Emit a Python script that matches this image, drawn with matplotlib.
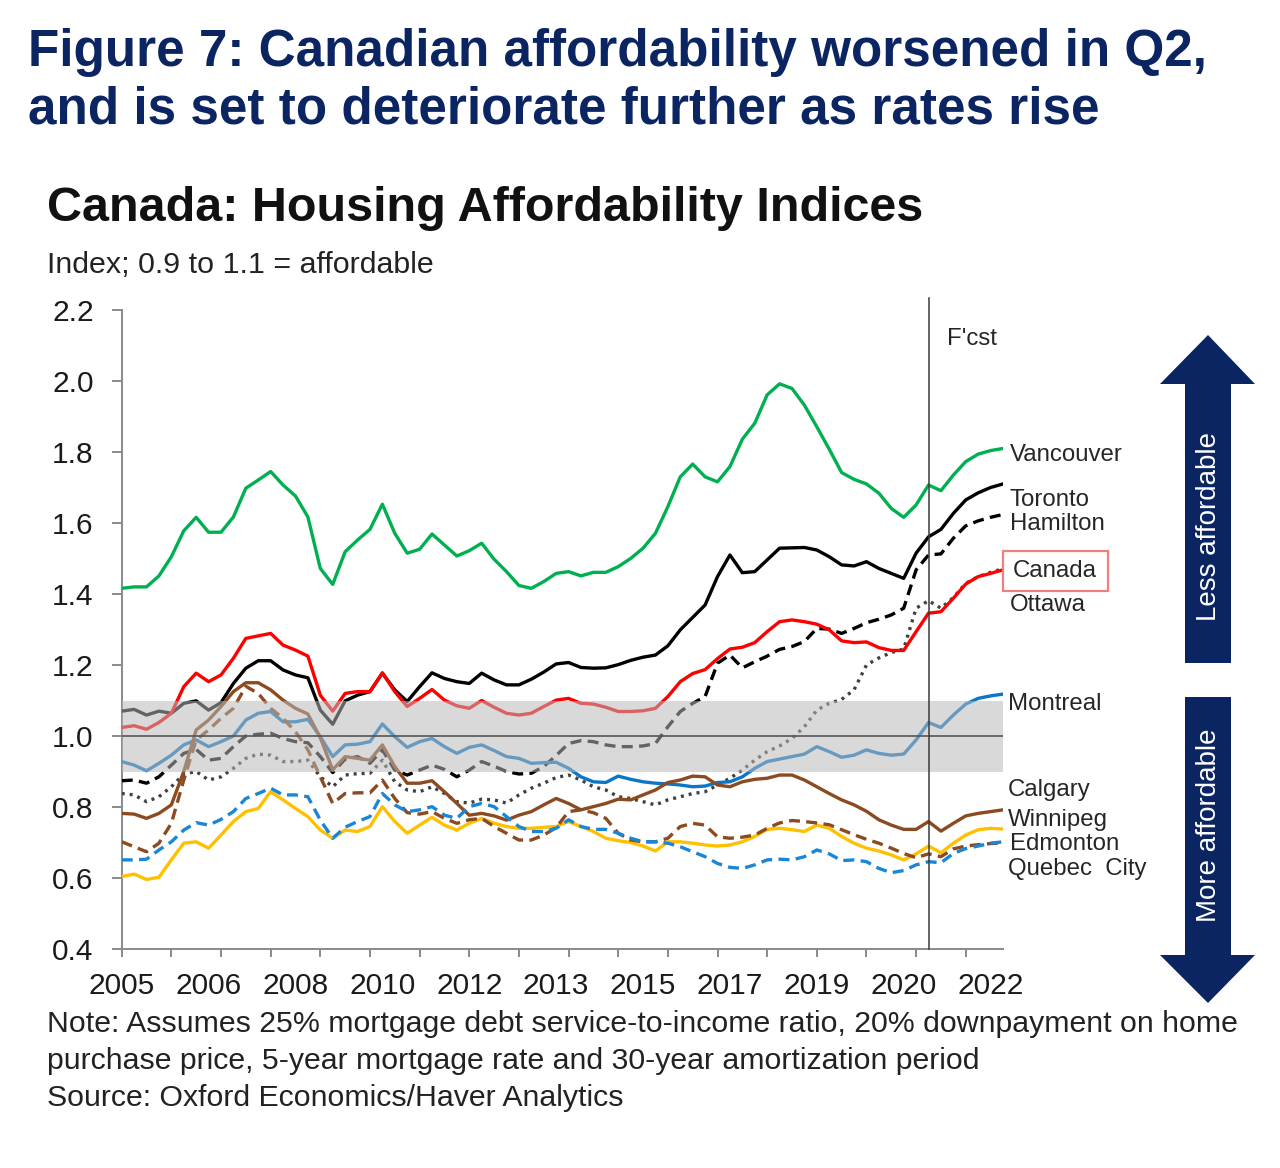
import numpy as np
import matplotlib
matplotlib.use("Agg")
import matplotlib.pyplot as plt
from matplotlib.patches import Polygon, Rectangle

plt.rcParams['font.family'] = ['Liberation Sans', 'DejaVu Sans']

# ---------------- data (quarterly, 2005Q1 - 2022Q4) ----------------
quarters = [f"{y}Q{q}" for y in range(2005, 2023) for q in range(1, 5)]

vancouver = [1.416, 1.42, 1.42, 1.451, 1.505, 1.578, 1.616, 1.574, 1.574, 1.617,
             1.698, 1.721, 1.745, 1.707, 1.676, 1.617, 1.472, 1.427, 1.519, 1.552,
             1.582, 1.653, 1.571, 1.515, 1.526, 1.569, 1.538, 1.507, 1.522, 1.543,
             1.498, 1.463, 1.424, 1.416, 1.435, 1.458, 1.463, 1.451, 1.461, 1.461,
             1.477, 1.500, 1.529, 1.571, 1.646, 1.730, 1.766, 1.730, 1.716, 1.759,
             1.836, 1.881, 1.961, 1.992, 1.979, 1.932, 1.871, 1.808, 1.742, 1.723,
             1.710, 1.684, 1.641, 1.616, 1.651, 1.707, 1.691, 1.735, 1.773, 1.794,
             1.804, 1.810]
toronto = [1.070, 1.075, 1.059, 1.070, 1.064, 1.092, 1.099, 1.073, 1.094, 1.148,
           1.191, 1.212, 1.212, 1.186, 1.172, 1.164, 1.073, 1.033, 1.099, 1.115,
           1.125, 1.177, 1.130, 1.097, 1.139, 1.178, 1.162, 1.153, 1.148, 1.177,
           1.158, 1.144, 1.144, 1.160, 1.180, 1.203, 1.207, 1.193, 1.191, 1.192,
           1.201, 1.213, 1.222, 1.228, 1.254, 1.299, 1.334, 1.369, 1.449, 1.510,
           1.460, 1.463, 1.496, 1.529, 1.530, 1.531, 1.524, 1.505, 1.482, 1.479,
           1.491, 1.472, 1.458, 1.444, 1.515, 1.561, 1.582, 1.627, 1.665, 1.685,
           1.700, 1.710]
hamilton = [0.874, 0.876, 0.867, 0.885, 0.918, 0.951, 0.962, 0.932, 0.937, 0.970,
            1.000, 1.005, 1.008, 0.993, 0.984, 0.981, 0.942, 0.897, 0.935, 0.942,
            0.923, 0.961, 0.904, 0.890, 0.904, 0.918, 0.906, 0.885, 0.904, 0.928,
            0.915, 0.900, 0.893, 0.895, 0.914, 0.945, 0.979, 0.987, 0.984, 0.975,
            0.970, 0.970, 0.972, 0.979, 1.026, 1.069, 1.092, 1.111, 1.205, 1.228,
            1.192, 1.209, 1.225, 1.244, 1.252, 1.266, 1.303, 1.301, 1.289, 1.303,
            1.319, 1.329, 1.341, 1.360, 1.468, 1.510, 1.513, 1.557, 1.592, 1.606,
            1.616, 1.624]
canada = [1.024, 1.029, 1.019, 1.038, 1.064, 1.139, 1.177, 1.153, 1.172, 1.219,
          1.275, 1.282, 1.289, 1.256, 1.242, 1.225, 1.115, 1.070, 1.120, 1.125,
          1.125, 1.178, 1.125, 1.083, 1.106, 1.131, 1.101, 1.085, 1.078, 1.100,
          1.081, 1.064, 1.059, 1.064, 1.083, 1.101, 1.106, 1.092, 1.090, 1.081,
          1.069, 1.069, 1.071, 1.078, 1.111, 1.153, 1.176, 1.187, 1.218, 1.245,
          1.250, 1.263, 1.294, 1.322, 1.327, 1.322, 1.315, 1.299, 1.268, 1.263,
          1.265, 1.249, 1.241, 1.241, 1.294, 1.346, 1.350, 1.388, 1.428, 1.449,
          1.458, 1.468]
ottawa = [0.838, 0.834, 0.815, 0.829, 0.857, 0.893, 0.900, 0.876, 0.885, 0.909,
          0.937, 0.949, 0.946, 0.928, 0.928, 0.932, 0.885, 0.857, 0.890, 0.894,
          0.895, 0.932, 0.871, 0.848, 0.843, 0.857, 0.838, 0.815, 0.811, 0.822,
          0.820, 0.811, 0.834, 0.853, 0.867, 0.883, 0.890, 0.876, 0.857, 0.848,
          0.829, 0.824, 0.815, 0.806, 0.820, 0.829, 0.838, 0.843, 0.862, 0.881,
          0.904, 0.932, 0.956, 0.972, 0.993, 1.026, 1.073, 1.092, 1.103, 1.130,
          1.200, 1.220, 1.235, 1.245, 1.360, 1.381, 1.360, 1.390, 1.430, 1.449,
          1.461, 1.471]
montreal = [0.928, 0.918, 0.902, 0.923, 0.946, 0.975, 0.989, 0.970, 0.984, 1.000,
            1.045, 1.064, 1.069, 1.040, 1.040, 1.047, 0.998, 0.942, 0.975, 0.977,
            0.984, 1.034, 0.998, 0.968, 0.984, 0.993, 0.970, 0.951, 0.968, 0.975,
            0.959, 0.942, 0.937, 0.923, 0.925, 0.926, 0.909, 0.885, 0.871, 0.869,
            0.887, 0.878, 0.871, 0.867, 0.865, 0.862, 0.857, 0.859, 0.869, 0.871,
            0.885, 0.909, 0.928, 0.935, 0.942, 0.949, 0.970, 0.956, 0.940, 0.946,
            0.961, 0.951, 0.946, 0.949, 0.989, 1.038, 1.024, 1.059, 1.090, 1.106,
            1.113, 1.118]
calgary = [0.782, 0.780, 0.768, 0.782, 0.806, 0.900, 1.017, 1.045, 1.083, 1.125,
           1.150, 1.150, 1.130, 1.101, 1.078, 1.062, 0.995, 0.905, 0.942, 0.937,
           0.932, 0.975, 0.914, 0.867, 0.867, 0.874, 0.843, 0.810, 0.777, 0.782,
           0.775, 0.763, 0.777, 0.787, 0.806, 0.824, 0.810, 0.792, 0.801, 0.810,
           0.822, 0.820, 0.834, 0.848, 0.869, 0.876, 0.887, 0.885, 0.862, 0.857,
           0.871, 0.878, 0.881, 0.890, 0.890, 0.876, 0.857, 0.838, 0.820, 0.806,
           0.788, 0.764, 0.749, 0.737, 0.737, 0.759, 0.732, 0.754, 0.775, 0.782,
           0.787, 0.792]
winnipeg = [0.604, 0.611, 0.596, 0.602, 0.651, 0.698, 0.702, 0.684, 0.721, 0.759,
            0.787, 0.796, 0.843, 0.820, 0.796, 0.773, 0.735, 0.712, 0.735, 0.731,
            0.745, 0.801, 0.759, 0.726, 0.749, 0.771, 0.749, 0.735, 0.754, 0.768,
            0.754, 0.745, 0.740, 0.740, 0.743, 0.745, 0.759, 0.745, 0.731, 0.712,
            0.705, 0.700, 0.690, 0.676, 0.702, 0.702, 0.698, 0.693, 0.690, 0.693,
            0.702, 0.717, 0.737, 0.740, 0.736, 0.731, 0.749, 0.740, 0.717, 0.698,
            0.684, 0.676, 0.665, 0.651, 0.668, 0.690, 0.671, 0.698, 0.721, 0.736,
            0.740, 0.738]
edmonton = [0.702, 0.688, 0.674, 0.698, 0.754, 0.876, 0.989, 1.017, 1.050, 1.078,
            1.140, 1.120, 1.078, 1.050, 1.012, 0.961, 0.885, 0.810, 0.838, 0.840,
            0.840, 0.876, 0.824, 0.784, 0.780, 0.787, 0.768, 0.754, 0.764, 0.768,
            0.745, 0.726, 0.707, 0.707, 0.721, 0.742, 0.787, 0.792, 0.784, 0.768,
            0.726, 0.707, 0.702, 0.702, 0.712, 0.745, 0.754, 0.749, 0.716, 0.712,
            0.715, 0.721, 0.740, 0.755, 0.762, 0.759, 0.755, 0.750, 0.736, 0.722,
            0.709, 0.698, 0.684, 0.669, 0.657, 0.668, 0.660, 0.682, 0.690, 0.694,
            0.697, 0.699]
quebec_city = [0.651, 0.651, 0.653, 0.679, 0.702, 0.735, 0.756, 0.749, 0.765, 0.787,
               0.824, 0.838, 0.853, 0.834, 0.834, 0.829, 0.763, 0.712, 0.743, 0.759,
               0.773, 0.838, 0.806, 0.787, 0.792, 0.801, 0.777, 0.768, 0.801, 0.810,
               0.801, 0.773, 0.745, 0.731, 0.731, 0.740, 0.764, 0.745, 0.737, 0.737,
               0.726, 0.712, 0.702, 0.702, 0.698, 0.688, 0.674, 0.660, 0.641, 0.630,
               0.627, 0.637, 0.651, 0.653, 0.651, 0.660, 0.679, 0.668, 0.649, 0.651,
               0.646, 0.627, 0.615, 0.621, 0.637, 0.646, 0.643, 0.669, 0.683, 0.690,
               0.698, 0.702]

forecast_start = "2021Q2"
band_low, band_high = 0.9, 1.1
series_labels = ["Vancouver", "Toronto", "Hamilton", "Canada", "Ottawa",
                 "Montreal", "Calgary", "Winnipeg", "Edmonton", "Quebec  City"]

# ---------------- figure ----------------
W, H = 1280, 1168
fig = plt.figure(figsize=(W / 100, H / 100), dpi=100)
fig.patch.set_facecolor("white")


def fx(x):
    return x / W


def fy(y):
    return 1 - y / H


ax = fig.add_axes([fx(121.7), fy(949), (1003 - 121.7) / W, (949 - 310) / H])
x = np.arange(len(quarters))

navy = "#0B2462"
brown = "#8B4A1F"
blue = "#0A76C8"
lw = 2.4

ax.plot(x, vancouver, color="#00B050", lw=lw, zorder=3)
ax.plot(x, hamilton, color="black", lw=lw, ls=(0, (3.3, 1.9)), zorder=3)
ax.plot(x, ottawa, color="#404040", lw=lw, ls=(0, (0.9, 1.5)), zorder=3)
ax.plot(x, toronto, color="black", lw=lw, zorder=3)
ax.plot(x, canada, color="#FF0000", lw=lw, zorder=3)
ax.plot(x, montreal, color=blue, lw=lw, zorder=3)
ax.plot(x, calgary, color=brown, lw=lw, zorder=3)
ax.plot(x, winnipeg, color="#FFC000", lw=lw, zorder=3)
ax.plot(x, edmonton, color=brown, lw=lw, ls=(0, (3.3, 1.9)), zorder=3)
ax.plot(x, quebec_city, color="#1A86D6", lw=lw, ls=(0, (3.3, 1.9)), zorder=3)

# affordable band drawn on top (semi-transparent), with 1.0 line
ax.axhspan(band_low, band_high, color=(0.725, 0.725, 0.725), alpha=0.54, lw=0, zorder=5)
ax.axhline(1.0, color="#555555", lw=1.2, zorder=6)

# forecast line
fc = quarters.index(forecast_start)
ax.axvline(fc, ymin=0, ymax=1.019, color="#3A3A3A", lw=1.1, zorder=7, clip_on=False)

ax.set_xlim(0, len(quarters) - 1)
ax.set_ylim(0.4, 2.2)

yt = np.round(np.arange(0.4, 2.21, 0.2), 1)
ax.set_yticks(yt)
ax.set_yticklabels([f"{v:.1f}" for v in yt])

ax.xaxis.remove_overlapping_locs = False
major = x[::4]
ax.set_xticks(major)
ax.set_xticklabels([""] * len(major))
minor = x[::7]
ax.set_xticks(minor, minor=True)
ax.set_xticklabels([quarters[i][:4] for i in minor], minor=True)

axis_col = "#8A8A8A"
for s in ["top", "right"]:
    ax.spines[s].set_visible(False)
for s in ["left", "bottom"]:
    ax.spines[s].set_color(axis_col)
    ax.spines[s].set_linewidth(1.4)
ax.tick_params(axis="y", which="major", direction="out", length=7.2, width=1.4,
               color=axis_col, labelsize=21.5, labelcolor="#1A1A1A", pad=13)
ax.tick_params(axis="x", which="major", direction="out", length=5.8, width=1.4,
               color=axis_col)
ax.tick_params(axis="x", which="minor", length=0, labelsize=21.5,
               labelcolor="#1A1A1A", pad=16.5)

# ---------------- texts ----------------
renderer = fig.canvas.get_renderer()


def fit(t, target):
    for _ in range(3):
        w = t.get_window_extent(renderer).width
        t.set_fontsize(t.get_fontsize() * target / w)
    return t.get_fontsize()


t1 = fig.text(fx(28), fy(66), "Figure 7: Canadian affordability worsened in Q2,",
              fontsize=32, fontweight="bold", color=navy, va="baseline")
s = fit(t1, 1179)
fig.text(fx(28), fy(124), "and is set to deteriorate further as rates rise",
         fontsize=s, fontweight="bold", color=navy, va="baseline")

t2 = fig.text(fx(47), fy(221), "Canada: Housing Affordability Indices",
              fontsize=32, fontweight="bold", color="#111111", va="baseline")
fit(t2, 876)

t3 = fig.text(fx(47), fy(273), "Index; 0.9 to 1.1 = affordable",
              fontsize=20, color="#222222", va="baseline")
fit(t3, 386)

n1 = fig.text(fx(47), fy(1032),
              "Note: Assumes 25% mortgage debt service-to-income ratio, 20% downpayment on home",
              fontsize=20, color="#222222", va="baseline")
ns = fit(n1, 1193)
fig.text(fx(47), fy(1069),
         "purchase price, 5-year mortgage rate and 30-year amortization period",
         fontsize=ns, color="#222222", va="baseline")
fig.text(fx(47), fy(1106), "Source: Oxford Economics/Haver Analytics",
         fontsize=ns, color="#222222", va="baseline")

# series labels at right
label_y = [455, 500, 524, 571, 605, 704, 790, 820, 844, 869]
lab_x = [1010, 1010, 1010, 1013, 1010, 1008, 1008, 1008, 1010, 1008]
tv = fig.text(fx(1010), fy(455), "Vancouver", fontsize=17, color="#262626", va="center")
ls_ = fit(tv, 113)
for name, yy, xx in zip(series_labels[1:], label_y[1:], lab_x[1:]):
    fig.text(fx(xx), fy(yy), name, fontsize=ls_, color="#262626", va="center")
fig.patches.append(Rectangle((fx(1003), fy(591)), (1108 - 1003) / W, 40 / H,
                             transform=fig.transFigure, facecolor="none",
                             edgecolor="#F08080", lw=1.6))

fig.text(fx(947), fy(339), "F'cst", fontsize=ls_, color="#262626", va="center")

# arrows
up = [(1208, 335), (1255, 384), (1231, 384), (1231, 663), (1185, 663), (1185, 384), (1160, 384)]
down = [(1185, 697), (1231, 697), (1231, 955), (1255, 955), (1208, 1003), (1160, 955), (1185, 955)]
for pts in (up, down):
    fig.patches.append(Polygon([(fx(a), fy(b)) for a, b in pts], closed=True,
                               transform=fig.transFigure, facecolor=navy, edgecolor="none"))
ta = fig.text(fx(1209), fy(526), "Less affordable", rotation=90, color="white",
              fontsize=20, ha="center", va="center")
fig.text(fx(1209), fy(825), "More affordable", rotation=90, color="white",
         fontsize=ta.get_fontsize(), ha="center", va="center")

fig.savefig("out.png", dpi=100)
